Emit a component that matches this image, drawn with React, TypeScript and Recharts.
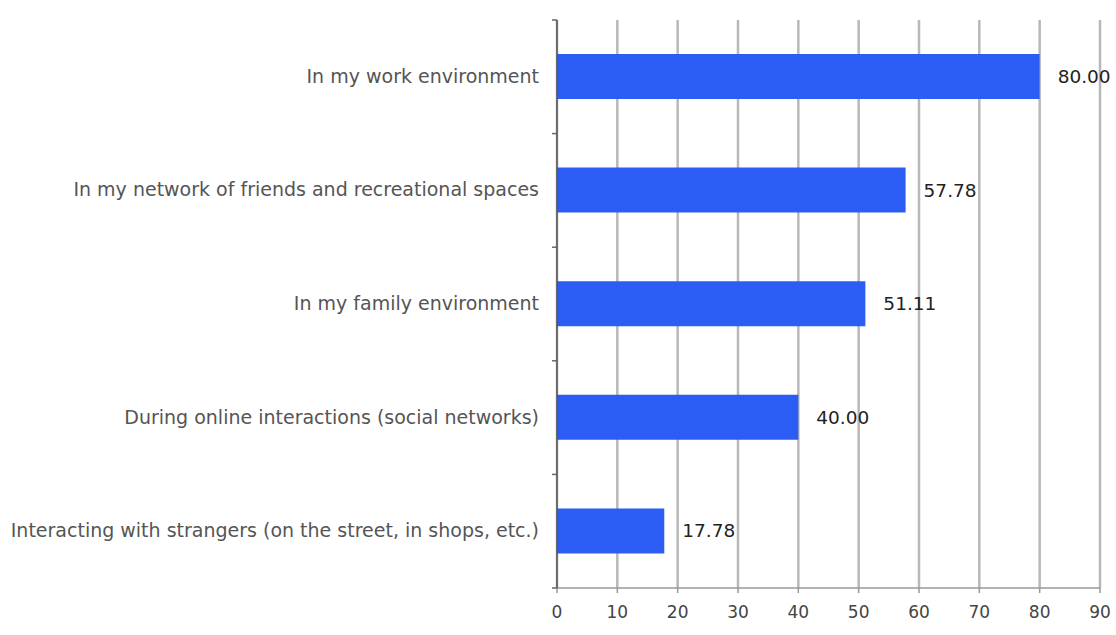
import { BarChart, Bar, XAxis, YAxis, CartesianGrid, LabelList } from "recharts";

// categories top to bottom
const categories = [
  "In my work environment",
  "In my network of friends and recreational spaces",
  "In my family environment",
  "During online interactions (social networks)",
  "Interacting with strangers (on the street, in shops, etc.)",
];
const values = [80.0, 57.78, 51.11, 40.0, 17.78];
const xTicks = [0, 10, 20, 30, 40, 50, 60, 70, 80, 90];

const BLUE = "#2b5cf3";
const GRID = "#b8b8b8";
const FONT = "'DejaVu Sans', Verdana, sans-serif";

const W = 1116;
const H = 627;
const TOP = 20;
const XH = 39;
const YW = 557;
const GAP = 18;

const data = categories.map((name, i) => ({ name, value: values[i] }));

function CatTick(props: any) {
  const { x, y, payload, index } = props;
  const step = (H - TOP - XH) / categories.length;
  const axisX = x + GAP;
  return (
    <g>
      <text
        x={x}
        y={y}
        dy={6}
        textAnchor="end"
        fill="#555"
        fontSize={19}
        fontFamily={FONT}
      >
        {payload.value}
      </text>
      <line x1={axisX - 5} x2={axisX} y1={y - step / 2} y2={y - step / 2} stroke="#666" strokeWidth={1.5} />
      {index === categories.length - 1 && (
        <line x1={axisX - 5} x2={axisX} y1={y + step / 2} y2={y + step / 2} stroke="#666" strokeWidth={1.5} />
      )}
    </g>
  );
}

export default function App() {
  return (
    <div style={{ position: "absolute", left: 0, top: 0, width: W, height: H, background: "#fff" }}>
      <BarChart
        width={W}
        height={H}
        data={data}
        layout="vertical"
        margin={{ top: TOP, right: 16, left: 0, bottom: 0 }}
        barSize={45}
        style={{ overflow: "visible" }}
      >
        <CartesianGrid horizontal={false} stroke={GRID} strokeWidth={2.5} />
        <XAxis
          type="number"
          domain={[0, 90]}
          ticks={xTicks}
          height={XH}
          interval={0}
          axisLine={{ stroke: "#999", strokeWidth: 1.5 }}
          tickLine={{ stroke: "#999", strokeWidth: 1.5 }}
          tickSize={5}
          tickMargin={13}
          tick={{ fontSize: 17, fill: "#444", fontFamily: FONT }}
        />
        <YAxis
          type="category"
          dataKey="name"
          width={YW}
          axisLine={{ stroke: "#555", strokeWidth: 1.5 }}
          tickLine={false}
          tickMargin={GAP}
          tickSize={0}
          interval={0}
          tick={<CatTick />}
        />
        <Bar dataKey="value" fill={BLUE} isAnimationActive={false}>
          <LabelList
            dataKey="value"
            position="right"
            offset={18}
            formatter={(v: any) => Number(v).toFixed(2)}
            style={{ fontSize: 18.5, fill: "#222", fontFamily: FONT }}
          />
        </Bar>
      </BarChart>
    </div>
  );
}
